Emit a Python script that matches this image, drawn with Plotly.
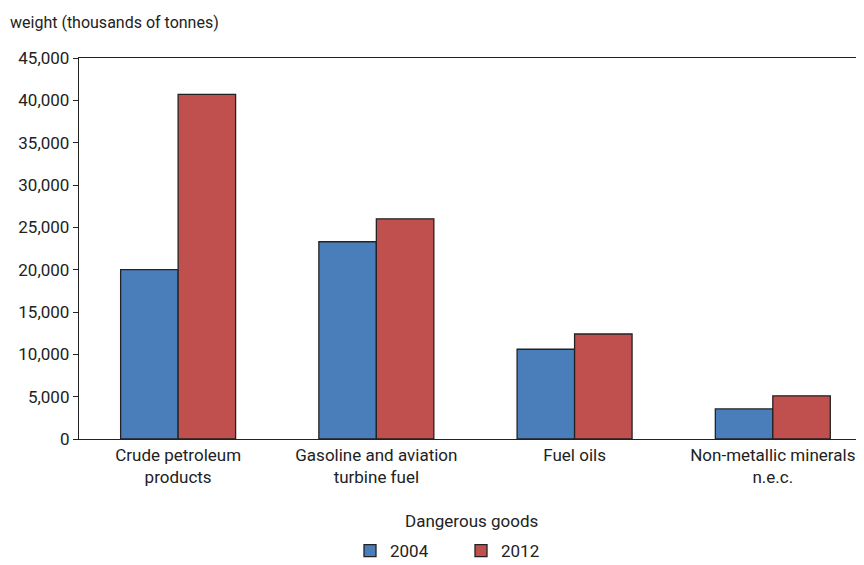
import plotly.graph_objects as go

categories = ["Crude petroleum<br>products", "Gasoline and aviation<br>turbine fuel", "Fuel oils", "Non-metallic minerals<br>n.e.c."]
values_2004 = [20000, 23300, 10600, 3550]
values_2012 = [40700, 26000, 12400, 5100]
y_ticks = [0, 5000, 10000, 15000, 20000, 25000, 30000, 35000, 40000, 45000]

FONT = "Liberation Sans Narrow, Arial Narrow, Roboto, sans-serif"

fig = go.Figure()
fig.add_trace(go.Bar(name="2004", x=categories, y=values_2004,
                     marker=dict(color="#4A7EBB", line=dict(color="#222222", width=1.3))))
fig.add_trace(go.Bar(name="2012", x=categories, y=values_2012,
                     marker=dict(color="#C0504D", line=dict(color="#222222", width=1.3))))

fig.update_layout(
    width=856, height=557,
    margin=dict(l=71, r=0, t=50, b=126, autoexpand=False),
    paper_bgcolor="white", plot_bgcolor="white",
    font=dict(family=FONT, size=17, color="#222222"),
    barmode="group", bargap=0.42, bargroupgap=0,
    showlegend=True,
    legend=dict(orientation="h", x=(342 - 71) / 785, xanchor="left",
                y=-112 / 381, yanchor="middle", font=dict(size=17),
                entrywidth=66, entrywidthmode="pixels", itemwidth=30,
                tracegroupgap=0, traceorder="normal"),
    xaxis=dict(range=[-0.5, 3.46], showline=True, linecolor="#222222", linewidth=1.3,
               mirror=True, ticks="", showgrid=False, tickfont=dict(size=17),
               automargin=False),
    yaxis=dict(range=[0, 45000], tickvals=y_ticks, tickformat=",", showline=True,
               linecolor="#222222", linewidth=1.3, ticks="outside", ticklen=5,
               tickcolor="#222222", showgrid=False, zeroline=False, tickfont=dict(size=17),
               automargin=False),
    annotations=[
        dict(text="weight (thousands of tonnes)", xref="paper", yref="paper",
             x=0, y=1, xshift=-71, yshift=36, xanchor="left", yanchor="middle",
             showarrow=False, font=dict(size=16)),
        dict(text="Dangerous goods", xref="paper", yref="paper",
             x=0.5, y=0, yshift=-82, xanchor="center", yanchor="middle",
             showarrow=False, font=dict(size=17)),
    ],
)

fig.write_html("out.html")
